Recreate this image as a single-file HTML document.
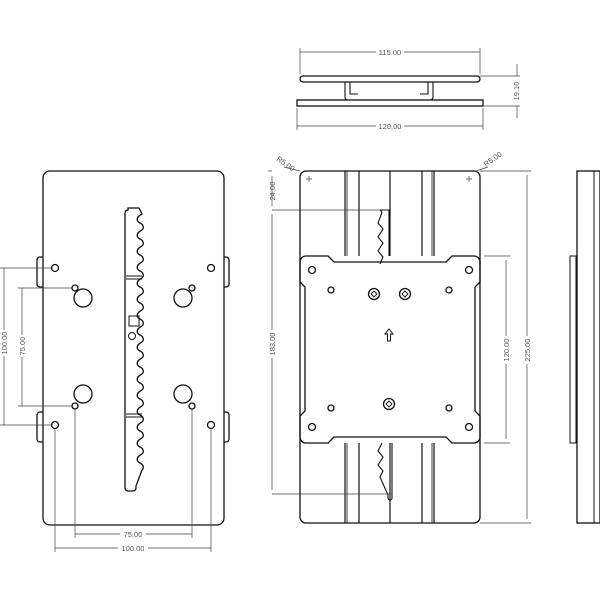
<!DOCTYPE html>
<html><head><style>body{margin:0;background:#fff}svg{display:block}text{font-family:"Liberation Sans",sans-serif;font-size:7.5px;fill:#555}</style></head><body>
<svg width="600" height="600" viewBox="0 0 600 600" xmlns="http://www.w3.org/2000/svg">
<g fill="none" stroke="#111" stroke-width="1.3">
<!-- LEFT VIEW -->
<rect x="43" y="171" width="181" height="354" rx="7"/>
<path d="M43 257 h-3 a3 3 0 0 0 -3 3 v24 a3 3 0 0 0 3 3 h3 M43 412 h-3 a3 3 0 0 0 -3 3 v24 a3 3 0 0 0 3 3 h3 M224 257 h2 a3 3 0 0 1 3 3 v24 a3 3 0 0 1 -3 3 h-2 M224 412 h2 a3 3 0 0 1 3 3 v24 a3 3 0 0 1 -3 3 h-2"/>
<circle cx="55" cy="268" r="3.5"/><circle cx="211" cy="268" r="3.5"/><circle cx="55" cy="425" r="3.5"/><circle cx="211" cy="425" r="3.5"/>
<circle cx="83" cy="298" r="9"/><circle cx="183" cy="298" r="9"/><circle cx="83" cy="394" r="9"/><circle cx="183" cy="394" r="9"/>
<circle cx="75" cy="288" r="3"/><circle cx="192" cy="288" r="3"/><circle cx="75" cy="406" r="3"/><circle cx="192" cy="406" r="3"/>
<path d="M128 208 h11 l3 6 c-6 3 -6 7 -2 9 c4 2 4 5 2 7 c-6 3 -6 7 -2 9 c4 2 4 5 2 7 c-6 3 -6 7 -2 9 c4 2 4 5 2 7 c-6 3 -6 7 -2 9 c4 2 4 5 2 7 c-6 3 -6 7 -2 9 c4 2 4 5 2 7 c-6 3 -6 7 -2 9 c4 2 4 5 2 7 c-6 3 -6 7 -2 9 c4 2 4 5 2 7 c-6 3 -6 7 -2 9 c4 2 4 5 2 7 c-6 3 -6 7 -2 9 c4 2 4 5 2 7 c-6 3 -6 7 -2 9 c4 2 4 5 2 7 c-6 3 -6 7 -2 9 c4 2 4 5 2 7 c-6 3 -6 7 -2 9 c4 2 4 5 2 7 c-6 3 -6 7 -2 9 c4 2 4 5 2 7 c-6 3 -6 7 -2 9 c4 2 4 5 2 7 c-6 3 -6 7 -2 9 c4 2 4 5 2 7 c-6 3 -6 7 -2 9 c4 2 4 5 2 7 l-6 16 v2 a3 3 0 0 1 -3 3 h-5 a3 3 0 0 1 -3 -3 v-275 a3 3 0 0 1 3 -3z"/>
<path d="M126 276 h16 M126 279 h16 M126 414 h16 M126 417 h16" stroke-width="1"/>
<rect x="129" y="316" width="10" height="10" stroke-width="1"/><circle cx="132" cy="336" r="3.5" stroke-width="1"/>
<!-- MIDDLE VIEW -->
<rect x="300" y="171" width="180" height="352" rx="6"/>
<path d="M345 171 v85 M345 443 v80 M359 171 v85 M359 443 v80 M390 171 v85 M390 443 v80 M422 171 v85 M422 443 v80 M434 171 v85 M434 443 v80" stroke-width="1.2"/>
<path d="M347 171 v85 M347 443 v80 M432 171 v85 M432 443 v80" stroke-width="0.8"/>
<path d="M380 210 h9 v46 M380 210 q3 2 1 5 l-3 8 l5 6 l-5 8 l5 6 l-5 8 l5 6 l-3 7" stroke-width="1.1"/>
<path d="M382 443 l-4 8 l5 6 l-5 8 l5 6 l-3 6 l8 18 v3 a2 2 0 0 0 4 0 v-55" stroke-width="1.1"/>
<path d="M306 256 h22 l6 6 h112 l6 -6 h22 a6 6 0 0 1 6 6 v20 l-5 5 v124 l5 5 v21 a6 6 0 0 1 -6 6 h-22 l-6 -6 h-112 l-6 6 h-22 a6 6 0 0 1 -6 -6 v-21 l5 -5 v-124 l-5 -5 v-20 a6 6 0 0 1 6 -6z"/>
<circle cx="312" cy="270" r="3.5"/><circle cx="469" cy="270" r="3.5"/><circle cx="312" cy="427" r="3.5"/><circle cx="469" cy="427" r="3.5"/>
<circle cx="331" cy="290" r="3"/><circle cx="449" cy="290" r="3"/><circle cx="331" cy="408" r="3"/><circle cx="449" cy="408" r="3"/>
<circle cx="374" cy="294" r="5.5"/><circle cx="405" cy="294" r="5.5"/><circle cx="389" cy="404" r="5.5"/>
<path d="M371 294 l3 -3 l3 3 l-3 3z M402 294 l3 -3 l3 3 l-3 3z M386 404 l3 -3 l3 3 l-3 3z" stroke-width="0.9"/>
<path d="M389 329 l-4 5 h2.5 v7 h3 v-7 h2.5z" stroke-width="1"/>
<!-- RIGHT VIEW -->
<rect x="577" y="171" width="23" height="352"/>
<path d="M594 171 v352" stroke-width="1"/>
<rect x="570" y="256" width="6" height="187" stroke-width="1"/>
<!-- TOP VIEW -->
<rect x="300" y="76" width="180" height="6" rx="3"/>
<rect x="297" y="100" width="186" height="6"/>
<path d="M345 82 v15 q0 3 3 3 h10 M350 82 v12 h8 M433 82 v15 q0 3 -3 3 h-10 M428 82 v12 h-8" stroke-width="1.1"/>
</g>
<g stroke="#444" stroke-width="0.7" fill="none">
<path d="M0 268 h53 M0 425 h53 M4 268 v157 M18 288 h55 M18 406 h55 M22 288 v118"/>
<path d="M55 428 v124 M211 428 v124 M75 409 v129 M192 409 v129 M55 548 h156 M75 534 h117"/>
<path d="M272 171 h-4 M272 210 h108 M272 494 h120 M272 176 v30 M272 214 v276"/>
<path d="M484 256 h26 M484 443 h26 M506 260 v179 M480 171 h51 M480 523 h51 M527 175 v344"/>
<path d="M300 74 v-26 M480 74 v-26 M300 52 h180 M297 108 v22 M483 108 v22 M297 126 h186 M480 76 h40 M483 106 h37 M517 64 v12 M517 106 v12"/>
<path d="M284 167 l16 4 M476 171 l12 -4 M309 176 v6 M306 179 h6 M469 176 v6 M466 179 h6"/>
</g>
<g>
<rect x="2" y="330" width="6" height="26" fill="#fff"/>
<text transform="translate(7,343) rotate(-90)" text-anchor="middle">100.00</text>
<rect x="19" y="335" width="6" height="22" fill="#fff"/>
<text transform="translate(25,346) rotate(-90)" text-anchor="middle">75.00</text>
<rect x="120" y="530" width="26" height="8" fill="#fff"/><text x="133" y="537" text-anchor="middle">75.00</text>
<rect x="118" y="544" width="30" height="8" fill="#fff"/><text x="133" y="551" text-anchor="middle">100.00</text>
<rect x="268" y="330" width="8" height="28" fill="#fff"/><text transform="translate(275,344) rotate(-90)" text-anchor="middle">183.00</text>
<text transform="translate(275,191) rotate(-90)" text-anchor="middle">24.00</text>
<rect x="502" y="336" width="8" height="28" fill="#fff"/><text transform="translate(509,350) rotate(-90)" text-anchor="middle">120.00</text>
<rect x="523" y="336" width="8" height="28" fill="#fff"/><text transform="translate(530,350) rotate(-90)" text-anchor="middle">225.00</text>
<rect x="376" y="48" width="28" height="8" fill="#fff"/><text x="390" y="55" text-anchor="middle">115.00</text>
<rect x="376" y="122" width="28" height="8" fill="#fff"/><text x="390" y="129" text-anchor="middle">120.00</text>
<text transform="translate(519,91) rotate(-90)" text-anchor="middle">19.10</text>
<text transform="translate(276,160) rotate(35)">R5.00</text>
<text transform="translate(486,167) rotate(-35)">R5.00</text>
</g>
</svg>
</body></html>
